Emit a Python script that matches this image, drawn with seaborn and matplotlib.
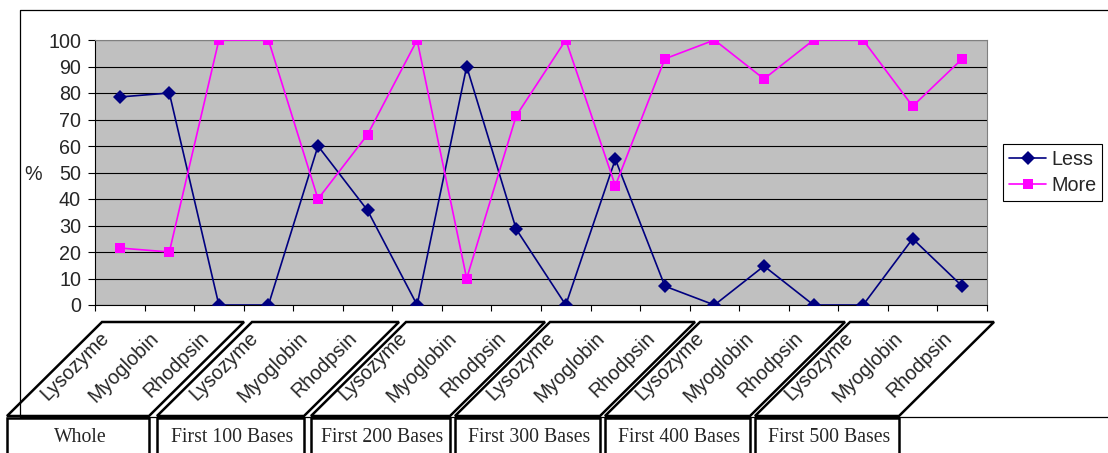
import matplotlib
matplotlib.use("Agg")
import matplotlib.pyplot as plt
from matplotlib.patches import Polygon, Rectangle
from matplotlib.lines import Line2D
import numpy as np
import pandas as pd
import seaborn as sns

# ---- data -------------------------------------------------------------
groups = ["Whole", "First 100 Bases", "First 200 Bases",
          "First 300 Bases", "First 400 Bases", "First 500 Bases"]
proteins = ["Lysozyme", "Myoglobin", "Rhodpsin"]

less = [78.5, 80.0, 0.0,
        0.0, 60.0, 35.7,
        0.0, 90.0, 28.6,
        0.0, 55.0, 7.1,
        0.0, 14.7, 0.0,
        0.0, 25.0, 7.1]
more = [21.5, 20.0, 100.0,
        100.0, 40.0, 64.3,
        100.0, 10.0, 71.4,
        100.0, 45.0, 92.9,
        100.0, 85.3, 100.0,
        100.0, 75.0, 92.9]

y_ticks = list(range(0, 101, 10))

# ---- figure setup -----------------------------------------------------
W, H = 1108, 453
sns.set_style("white")
plt.rcParams["font.family"] = ["Liberation Sans", "DejaVu Sans"]

fig = plt.figure(figsize=(W / 100, H / 100), dpi=100)
fig.patch.set_facecolor("white")

FS = 14.2


def px(x, y):
    """Pixel position (from top-left) to figure fraction."""
    return (x / W, 1 - y / H)


ax = fig.add_axes([95 / W, 1 - 305 / H, 892 / W, 265 / H])
ax.set_facecolor("#C0C0C0")

n = len(less)
pos = np.arange(n) + 0.5
labels = [p for _ in groups for p in proteins]
df = pd.DataFrame({
    "pos": np.concatenate([pos, pos]),
    "value": less + more,
    "series": ["Less"] * n + ["More"] * n,
})

MS = 7.0
LW = 1.2
sns.lineplot(data=df, x="pos", y="value", hue="series", style="series",
             palette={"Less": "#000080", "More": "#FF00FF"},
             markers={"Less": "D", "More": "s"}, dashes=False,
             markersize=MS, markeredgewidth=0, linewidth=LW,
             legend=False, ax=ax, zorder=3)

ax.set_xlim(0, n)
ax.set_ylim(0, 100)
ax.set_yticks(y_ticks)
ax.set_xticks(np.arange(n + 1))
ax.set_xticklabels([])
ax.set_xlabel("")
ax.set_ylabel("%", rotation=0, ha="center", va="center", fontsize=FS)
ax.yaxis.set_label_coords((33 - 95) / 892, (305 - 175) / 265)

ax.yaxis.grid(True, color="black", linewidth=0.8)
ax.xaxis.grid(False)
ax.set_axisbelow(True)
ax.tick_params(axis="y", direction="out", length=5, width=0.8,
               color="black", pad=5, labelsize=FS, left=True)
ax.tick_params(axis="x", direction="out", length=4.5, width=0.8,
               color="black", bottom=True)
for side in ("left", "bottom"):
    ax.spines[side].set_color("black")
    ax.spines[side].set_linewidth(0.8)
for side in ("top", "right"):
    ax.spines[side].set_color("#808080")
    ax.spines[side].set_linewidth(0.8)

# ---- legend -----------------------------------------------------------
handles = [
    Line2D([], [], color="#000080", marker="D", markersize=MS,
           markeredgewidth=0, linewidth=LW),
    Line2D([], [], color="#FF00FF", marker="s", markersize=MS,
           markeredgewidth=0, linewidth=LW),
]
leg = ax.legend(handles, ["Less", "More"], loc="center left",
                bbox_to_anchor=px(1003, 172.5), bbox_transform=fig.transFigure,
                borderaxespad=0, fontsize=FS, frameon=True, fancybox=False,
                edgecolor="black", framealpha=1, handlelength=1.9,
                handletextpad=0.25, labelspacing=0.35, borderpad=0.3)
leg.get_frame().set_linewidth(0.8)

# ---- outer chart frame --------------------------------------------------
fx = [px(1110, 10)[0], px(20, 10)[0], px(20, 417)[0], px(1110, 417)[0]]
fy = [px(1110, 10)[1], px(20, 10)[1], px(20, 417)[1], px(1110, 417)[1]]
fig.add_artist(Line2D(fx, fy, transform=fig.transFigure, color="black",
                      linewidth=0.9, zorder=1))

# ---- category boxes under the axis ----------------------------------------
box_x = [(7, 149), (157, 304), (311, 450), (455, 600), (605, 750), (755, 899)]
slant = 95
top_y, mid_y, bot_y = 322, 416, 470
for (x0, x1), name in zip(box_x, groups):
    para = Polygon([px(x0, mid_y), px(x1, mid_y),
                    px(x1 + slant, top_y), px(x0 + slant, top_y)],
                   closed=True, transform=fig.transFigure, facecolor="none",
                   edgecolor="black", linewidth=1.8, zorder=4)
    fig.add_artist(para)
    rx, ry = px(x0, bot_y)
    rx1, ry1 = px(x1, mid_y + 1.5)
    rect = Rectangle((rx, ry), rx1 - rx, ry1 - ry, transform=fig.transFigure,
                     facecolor="white", edgecolor="black", linewidth=1.8,
                     zorder=4)
    fig.add_artist(rect)
    fig.text(*px((x0 + x1) / 2 + 2, 437), name, ha="center", va="center",
             fontsize=14.2, family=["Liberation Serif", "DejaVu Serif"],
             zorder=5)

# rotated protein labels, one per category
lbl_tf = ax.get_xaxis_transform()
for p, lab in zip(pos, labels):
    ax.text(p - 0.27, (305 - 335) / 265, lab, transform=lbl_tf,
            rotation=45, rotation_mode="anchor", ha="right", va="center",
            fontsize=FS, clip_on=False, zorder=5)

fig.savefig("out.png", dpi=100)
